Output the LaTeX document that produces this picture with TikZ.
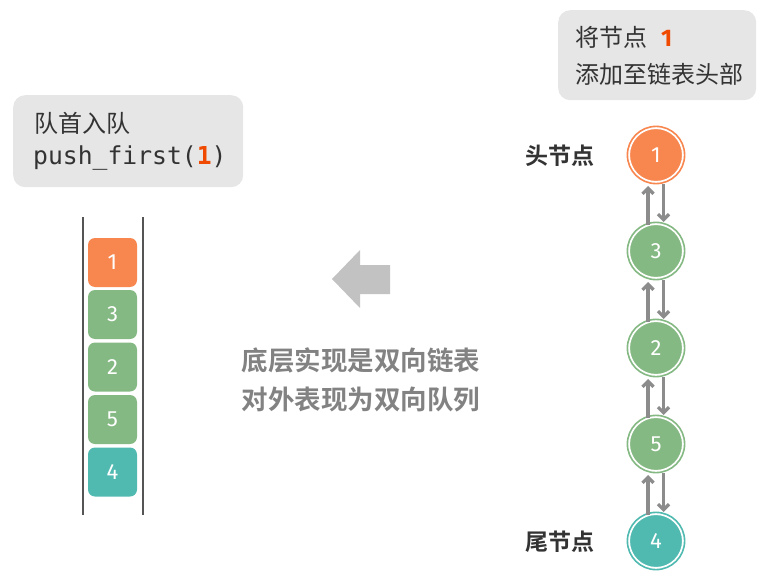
\documentclass[tikz,border=0pt]{standalone}
\usepackage{fontspec}
\setmainfont{Noto Sans}
\setmonofont{DejaVu Sans Mono}
\newfontfamily\cjk{Noto Sans CJK SC}
\newfontfamily\cjkbold{Noto Sans CJK SC Bold}
\newfontfamily\numfont{Fira Sans}
\usetikzlibrary{arrows.meta,calc}
\definecolor{boxgray}{HTML}{E6E6E6}
\definecolor{textdark}{HTML}{333333}
\definecolor{hlorange}{HTML}{F04A00}
\definecolor{cellorange}{HTML}{F8864F}
\definecolor{cellgreen}{HTML}{85B983}
\definecolor{cellteal}{HTML}{50BAB1}
\definecolor{linkgray}{HTML}{8C8C8C}
\definecolor{bigarrow}{HTML}{C2C2C2}
\definecolor{midtext}{HTML}{828282}
\definecolor{rail}{HTML}{555555}
\begin{document}
\begin{tikzpicture}[x=1pt,y=-1pt,
  note/.style={fill=boxgray, rounded corners=12pt},
  notetext/.style={anchor=west, text=textdark, inner sep=0pt},
  cell/.style={fill=#1, rounded corners=7pt, minimum width=49pt, minimum height=49pt,
    inner sep=0pt, text=white, font=\numfont\fontsize{22}{22}\selectfont},
  lnode/.style={circle, fill=#1, draw=white, line width=2pt, minimum size=54pt,
    inner sep=0pt, text=white, font=\numfont\fontsize{22}{22}\selectfont},
  ring/.style={draw=#1, line width=1.6pt},
  link/.style={draw=linkgray, line width=3.3pt, -{Straight Barb[length=5.5pt,width=11pt,line width=3.3pt]}},
  sidelabel/.style={text=textdark, font=\cjkbold\fontsize{23}{23}\selectfont},
]
\useasboundingbox (0,0) rectangle (767,577);

% ---- left note ----
\node[note, minimum width=230pt, minimum height=92pt, anchor=north west, inner sep=0pt] (lnote) at (13,95) {};
\node[notetext, font=\cjk\fontsize{24}{24}\selectfont] (lt1) at (34,123) {队首入队};
\node[notetext, font=\ttfamily\fontsize{24.7}{24.7}\selectfont] (lt2) at (33,158) {push\_first({\bfseries\color{hlorange}1})};

% ---- queue ----
\draw[rail, line width=1.2pt] (83,217) coordinate (ra) -- (83,515) coordinate (rb);
\draw[rail, line width=1.2pt] (143,217) coordinate (rc) -- (143,515) coordinate (rd);
\node[cell=cellorange] (q1) at (112.5,262.5) {1};
\node[cell=cellgreen]  (q3) at (112.5,314.5) {3};
\node[cell=cellgreen]  (q2) at (112.5,367)   {2};
\node[cell=cellgreen]  (q5) at (112.5,419.5) {5};
\node[cell=cellteal]   (q4) at (112.5,472)   {4};

% ---- block arrow ----
\fill[bigarrow] (332,279) -- (360,250) -- (360,265) -- (390,265) -- (390,294) -- (360,294) -- (360,308) -- cycle;

% ---- middle caption ----
\node[text=midtext, font=\cjkbold\fontsize{26.5}{26.5}\selectfont] (cap1) at (361,360) {底层实现是双向链表};
\node[text=midtext, font=\cjkbold\fontsize{26.5}{26.5}\selectfont] (cap2) at (361,400) {对外表现为双向队列};

% ---- right note ----
\node[note, minimum width=198pt, minimum height=90pt, anchor=north west, inner sep=0pt] (rnote) at (558,10) {};
\node[notetext, font=\cjk\fontsize{24}{24}\selectfont] (rt1) at (575,37) {将节点\hspace{14pt}{\numfont\bfseries\color{hlorange}1}};
\node[notetext, font=\cjk\fontsize{24}{24}\selectfont] (rt2) at (575,74) {添加至链表头部};

% ---- linked list ----
\node[lnode=cellorange] (n1) at (656,155) {1};
\node[lnode=cellgreen]  (n3) at (656,251) {3};
\node[lnode=cellgreen]  (n2) at (656,348) {2};
\node[lnode=cellgreen]  (n5) at (656,444) {5};
\node[lnode=cellteal]   (n4) at (656,541) {4};
\foreach \n/\c in {n1/cellorange,n3/cellgreen,n2/cellgreen,n5/cellgreen,n4/cellteal}
  \draw[ring=\c] (\n) circle (28.6pt);

\foreach \a/\b in {n1/n3,n3/n2,n2/n5,n5/n4}{
  \draw[link] ($(\b.north)+(-8,2)$) -- ($(\a.south)+(-8,3)$);
  \draw[link] ($(\a.south)+(7.5,1)$) -- ($(\b.north)+(7.5,-1)$);
}

\node[sidelabel] (head) at (560,156) {头节点};
\node[sidelabel] (tail) at (560,542) {尾节点};
\end{tikzpicture}
\end{document}
